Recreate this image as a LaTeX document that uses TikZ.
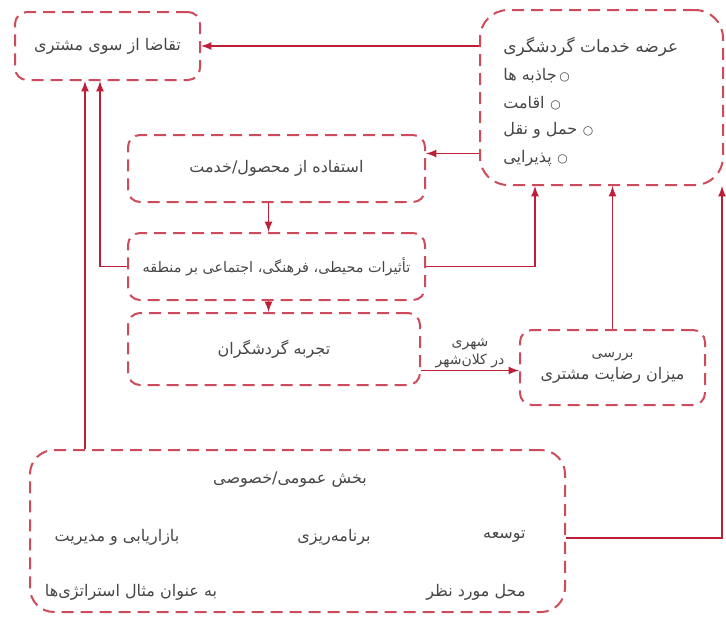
\documentclass[tikz,border=0pt]{standalone}
\usepackage{fontspec}
\usepackage{tikz}
\TeXXeTstate=1
\newfontfamily\arabicfont[Script=Arabic]{DejaVu Sans}
\newcommand{\fatxt}[1]{{\arabicfont\beginR #1\endR}}
\newcommand{\bulletmark}{{\arabicfont\fontsize{6}{6}\selectfont ○}}
\definecolor{linered}{RGB}{190,30,55}
\definecolor{boxred}{RGB}{205,75,90}
\definecolor{txtgray}{RGB}{70,70,70}

\tikzset{
    dbox/.style={draw=boxred, line width=1pt, dash pattern=on 6pt off 3.5pt,
        rounded corners=6pt, text=txtgray, font=\fontsize{8}{11}\selectfont,
        align=center, inner sep=0pt},
    conn/.style={draw=linered, line width=0.8pt, -latex},
    lbl/.style={text=txtgray, font=\fontsize{8}{11}\selectfont, inner sep=1pt}
}

\begin{document}
\begin{tikzpicture}[x=0.5pt, y=-0.5pt]
    \useasboundingbox (0,0) rectangle (726,622);

    % boxes
    \node[dbox, minimum width=92.5pt, minimum height=34pt] (demand) at (107.5,46)
        {\fatxt{تقاضا از سوی مشتری}};
    \node[dbox, minimum width=121.5pt, minimum height=87.5pt, rounded corners=14pt]
        (supply) at (601.5,97.5) {};
    \node[dbox, minimum width=148.5pt, minimum height=33.5pt] (use) at (276.5,168.5)
        {\fatxt{استفاده از محصول/خدمت}};
    \node[dbox, minimum width=148.5pt, minimum height=33.5pt,
        font=\fontsize{7.2}{10}\selectfont] (impact) at (276.5,266.5)
        {\fatxt{تأثیرات محیطی، فرهنگی، اجتماعی بر منطقه}};
    \node[dbox, minimum width=146pt, minimum height=36pt] (experience) at (274,349)
        {\fatxt{تجربه گردشگران}};
    \node[dbox, minimum width=92.5pt, minimum height=37.5pt] (survey) at (612.5,367.5)
        {{\fontsize{7}{9}\selectfont\fatxt{بررسی}}\\\fatxt{میزان رضایت مشتری}};
    \node[dbox, minimum width=267.5pt, minimum height=81pt, rounded corners=12pt]
        (bottom) at (297.5,531) {};

    % supply list
    \node[lbl, anchor=west, font=\fontsize{8.5}{11}\selectfont] (supplyhead) at (501,47)
        {\fatxt{عرضه خدمات گردشگری}};
    \node[lbl, anchor=west] (item_1) at (501,76) {\fatxt{جاذبه ها}\,\bulletmark};
    \node[lbl, anchor=west] (item_2) at (501,103) {\fatxt{اقامت}\ \bulletmark};
    \node[lbl, anchor=west] (item_3) at (501,130) {\fatxt{حمل و نقل}\ \bulletmark};
    \node[lbl, anchor=west] (item_4) at (501,158) {\fatxt{پذیرایی}\ \bulletmark};

    % sector box text
    \node[lbl] (sector) at (290,480) {\fatxt{بخش عمومی/خصوصی}};
    \node[lbl, anchor=east] (develop) at (528,537) {\fatxt{توسعه}};
    \node[lbl] (plan) at (334,537) {\fatxt{برنامه‌ریزی}};
    \node[lbl] (market) at (117,537) {\fatxt{بازاریابی و مدیریت}};
    \node[lbl, anchor=east] (place) at (528,592) {\fatxt{محل مورد نظر}};
    \node[lbl] (strategy) at (131,592) {\fatxt{به عنوان مثال استراتژی‌ها}};

    % connectors
    \draw[conn] (demand.east -| supply.west) -- (demand.east);
    \draw[conn] ([yshift=7.5pt]use.east -| supply.west) -- ([yshift=7.5pt]use.east);
    \draw[conn] ([xshift=-4pt]use.south) -- ([xshift=-4pt]use.south |- impact.north);
    \draw[conn] ([xshift=-4pt]impact.south) -- ([xshift=-4pt]impact.south |- experience.north);
    \draw[conn] (impact.west) -| ([xshift=-3.75pt]demand.south);
    \draw[conn] ([xshift=-11.25pt]demand.south |- bottom.north) -- ([xshift=-11.25pt]demand.south);
    \draw[conn] (impact.east) -| ([xshift=-33.25pt]supply.south);
    \draw[conn] (survey.north) -- (survey.north |- supply.south);
    \draw[conn] ([yshift=-3.5pt]bottom.east) -| ([xshift=-1pt]supply.south east);
    \draw[conn] ([yshift=-1.5pt]survey.west -| experience.east) -- ([yshift=-1.5pt]survey.west)
        node[lbl, midway, above, align=center, font=\fontsize{7}{9}\selectfont]
        {\fatxt{شهری}\\\fatxt{در کلان‌شهر}};
\end{tikzpicture}
\end{document}
